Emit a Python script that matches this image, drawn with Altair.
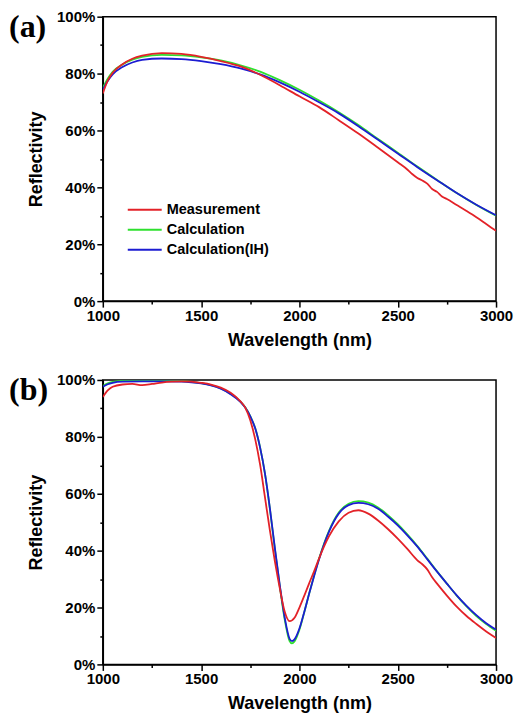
import altair as alt
import pandas as pd

SERIES = ["Measurement", "Calculation", "Calculation(IH)"]
COLORS = ["#e32228", "#2ee02e", "#1c1cd2"]

# ---------- panel (a) ----------
a_meas_nm = [1000, 1025, 1050, 1100, 1150, 1200, 1300, 1400, 1500, 1600, 1700, 1800, 1900,
             2000, 2100, 2200, 2300, 2400, 2500, 2550, 2575, 2600, 2625, 2650, 2675, 2700,
             2725, 2750, 2800, 2850, 2900, 2950, 3000]
a_meas = [73.0, 77.5, 80.3, 83.3, 85.2, 86.3, 87.2, 86.9, 85.9, 84.4, 82.5, 79.6, 75.9,
          72.0, 68.2, 63.6, 58.9, 53.9, 48.8, 46.2, 44.6, 43.3, 42.4, 41.3, 39.4, 38.4,
          36.8, 35.9, 33.8, 31.7, 29.5, 27.1, 24.7]
a_calc_nm = [1000, 1025, 1050, 1100, 1150, 1200, 1300, 1400, 1500, 1600, 1700, 1800, 1900,
             2000, 2100, 2200, 2300, 2400, 2500, 2600, 2700, 2800, 2900, 3000]
a_calc = [75.0, 78.2, 80.6, 83.2, 84.9, 85.9, 86.6, 86.4, 85.7, 84.6, 82.9, 80.7, 77.7,
          74.3, 70.5, 66.4, 61.9, 57.0, 52.2, 47.3, 42.6, 38.0, 33.8, 30.0]
a_ih = [74.3, 77.4, 79.7, 82.3, 83.9, 84.8, 85.3, 85.1, 84.4, 83.3, 81.8, 79.7, 76.9,
        73.6, 69.9, 66.0, 61.5, 56.7, 51.9, 47.1, 42.5, 38.0, 33.9, 30.2]

# ---------- panel (b) ----------
b_meas_nm = [1000, 1025, 1050, 1100, 1150, 1200, 1250, 1300, 1350, 1400, 1450, 1500, 1550,
             1600, 1650, 1700, 1725, 1750, 1775, 1800, 1825, 1850, 1875, 1900, 1925, 1950,
             1975, 2000, 2025, 2050, 2075, 2100, 2150, 2200, 2250, 2300, 2350, 2400, 2450,
             2500, 2550, 2600, 2625, 2650, 2675, 2700, 2750, 2800, 2850, 2900, 2950, 3000]
b_meas = [94.0, 96.3, 97.6, 98.4, 98.6, 98.2, 98.6, 99.1, 99.4, 99.5, 99.4, 99.0, 98.4,
          97.3, 95.5, 92.5, 90.2, 85.8, 79.2, 70.2, 58.6, 47.0, 36.3, 26.8, 18.6, 15.2,
          16.4, 20.0, 24.2, 28.6, 32.8, 37.3, 45.0, 50.3, 53.3, 54.2, 53.0, 50.6, 47.6,
          44.2, 40.5, 36.6, 35.2, 33.4, 30.6, 28.4, 24.2, 20.3, 17.0, 14.2, 11.6, 9.3]
b_calc_nm = [1000, 1025, 1050, 1100, 1200, 1300, 1400, 1450, 1500, 1550, 1600, 1650, 1700,
             1725, 1750, 1775, 1800, 1825, 1850, 1875, 1900, 1925, 1950, 1962, 1975, 2000,
             2025, 2050, 2075, 2100, 2150, 2200, 2250, 2300, 2350, 2400, 2450, 2500, 2550,
             2600, 2650, 2700, 2750, 2800, 2850, 2900, 2950, 3000]
b_calc = [97.9, 98.8, 99.3, 99.7, 99.8, 99.8, 99.6, 99.3, 98.9, 98.2, 97.0, 95.1, 92.4,
          90.3, 87.3, 83.1, 76.3, 67.0, 54.6, 40.6, 27.5, 15.8, 8.2, 7.4, 8.1, 12.2,
          18.4, 25.0, 31.3, 37.2, 46.9, 53.4, 56.5, 57.4, 56.9, 55.2, 52.5, 49.3, 45.6,
          41.6, 37.2, 32.7, 28.4, 24.2, 20.4, 17.0, 14.2, 11.8]
b_ih = [97.6, 98.5, 99.0, 99.4, 99.5, 99.5, 99.4, 99.2, 98.8, 98.1, 96.9, 95.0, 92.3,
        90.2, 87.2, 83.0, 76.2, 67.0, 54.8, 41.0, 28.0, 16.5, 9.0, 8.2, 8.8, 12.6,
        18.5, 25.0, 31.2, 37.0, 46.6, 53.0, 56.0, 56.8, 56.3, 54.7, 52.0, 48.9, 45.3,
        41.4, 37.0, 32.6, 28.4, 24.3, 20.6, 17.3, 14.5, 12.3]

X_TICKS = [1000, 1250, 1500, 1750, 2000, 2250, 2500, 2750, 3000]
Y_TICKS = [0, 10, 20, 30, 40, 50, 60, 70, 80, 90, 100]

W, H = 394, 285


def long_df(parts):
    rows = []
    for name, xs, ys in parts:
        for x, y in zip(xs, ys):
            rows.append({"wavelength": x, "reflectivity": y, "series": name})
    return pd.DataFrame(rows)


def panel(df, tag):
    x_axis = alt.Axis(
        values=X_TICKS,
        labelExpr="datum.value % 500 === 0 ? datum.value : ''",
        tickSize={"condition": {"test": "datum.value % 500 === 0", "value": 6}, "value": 3},
        labelPadding=1, titlePadding=8, labelFlush=False, labelOverlap=False,
        title="Wavelength (nm)",
    )
    y_axis = alt.Axis(
        values=Y_TICKS,
        labelExpr="datum.value % 20 === 0 ? datum.value + '%' : ''",
        tickSize={"condition": {"test": "datum.value % 20 === 0", "value": 6}, "value": 3},
        labelPadding=2, titlePadding=11, labelOverlap=False,
        title="Reflectivity",
    )
    legend = alt.Legend(
        title=None, orient="none", legendX=24, legendY=186,
        symbolType="stroke", symbolStrokeWidth=2, symbolSize=1156,
        labelFont="Liberation Sans", labelFontWeight="bold", labelFontSize=14.5,
        labelColor="black", rowPadding=4, labelOffset=4, padding=0, clipHeight=15,
    )
    lines = alt.Chart(df).mark_line(strokeWidth=1.8, clip=True, interpolate="monotone").encode(
        x=alt.X("wavelength:Q", scale=alt.Scale(domain=[1000, 3000], nice=False), axis=x_axis),
        y=alt.Y("reflectivity:Q", scale=alt.Scale(domain=[0, 100], nice=False), axis=y_axis),
        color=alt.Color("series:N", scale=alt.Scale(domain=SERIES, range=COLORS),
                        sort=SERIES, legend=legend),
        detail="series:N",
    )
    label = alt.Chart(pd.DataFrame({"tag": [tag]})).mark_text(
        font="Liberation Serif", fontWeight="bold", fontSize=32,
        align="left", baseline="top", color="black",
    ).encode(x=alt.value(-94), y=alt.value(-5), text="tag:N")
    return alt.layer(lines, label).properties(width=W, height=H)


df_a = long_df([("Calculation", a_calc_nm, a_calc),
                ("Calculation(IH)", a_calc_nm, a_ih),
                ("Measurement", a_meas_nm, a_meas)])
df_b = long_df([("Calculation", b_calc_nm, b_calc),
                ("Calculation(IH)", b_calc_nm, b_ih),
                ("Measurement", b_meas_nm, b_meas)])

chart = alt.vconcat(panel(df_a, "(a)"), panel(df_b, "(b)"), spacing=22).properties(
    padding=0,
    background="white",
).configure_view(
    stroke="black", strokeWidth=1.5,
).configure_axis(
    domainColor="black", domainWidth=1.5, tickColor="black", tickWidth=1.5,
    labelFont="Liberation Sans", labelFontWeight="bold", labelFontSize=15, labelColor="black",
    titleFont="Liberation Sans", titleFontWeight="bold", titleFontSize=18, titleColor="black",
    grid=False,
)

chart.save("out.html", embed_options={"renderer": "svg", "actions": False})
